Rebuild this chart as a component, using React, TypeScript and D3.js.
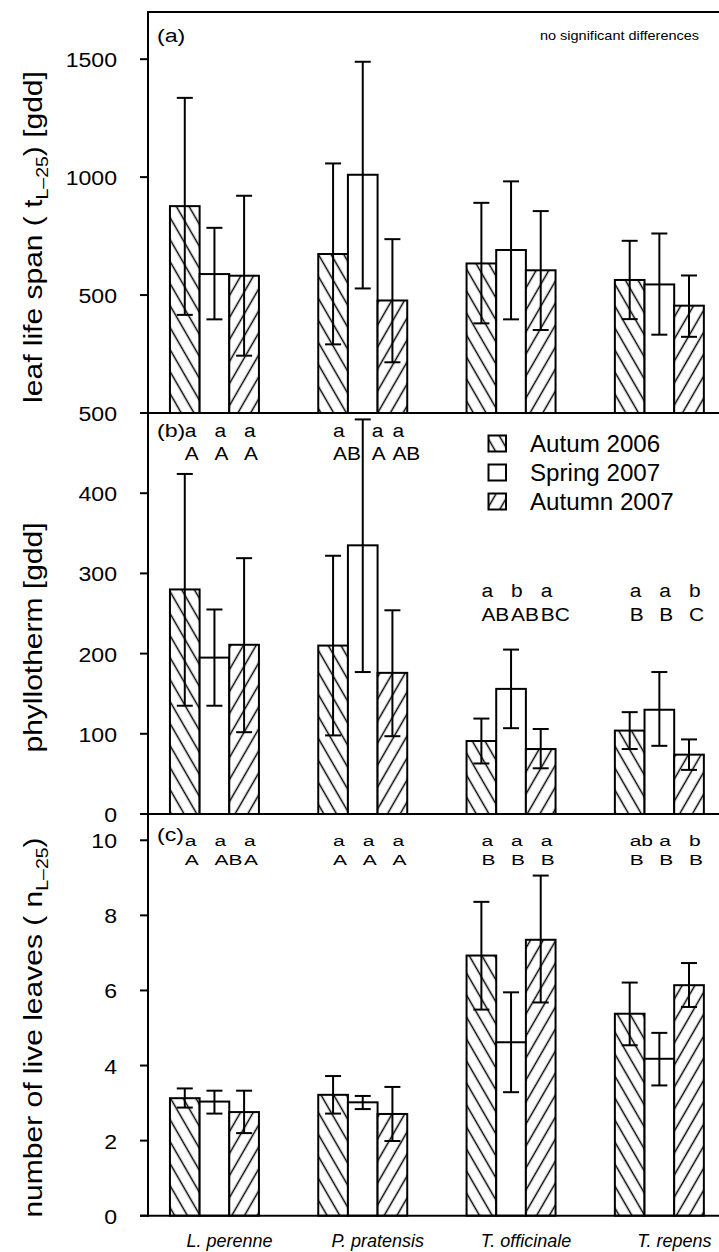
import React from "react";
import * as d3 from "d3";

const species = ["L. perenne", "P. pratensis", "T. officinale", "T. repens"];
const seasons = ["Autum 2006", "Spring 2007", "Autumn 2007"];

// Panel (a): leaf life span [gdd]
const lifeSpanMean = [[877, 589, 582], [674, 1010, 477], [634, 691, 605], [564, 545, 455]];
const lifeSpanHi = [[1336, 785, 921], [1058, 1489, 737], [891, 982, 856], [730, 761, 583]];
const lifeSpanLo = [[416, 397, 243], [291, 528, 215], [380, 397, 352], [398, 332, 323]];
const lifeSpanTicks = [500, 1000, 1500];

// Panel (b): phyllotherm [gdd]
const phylloMean = [[280, 195, 211], [210, 335, 176], [91, 156, 81], [104, 130, 74]];
const phylloHi = [[424, 255, 319], [322, 492, 254], [119, 205, 106], [127, 177, 93]];
const phylloLo = [[135, 135, 102], [98, 177, 97], [63, 107, 57], [81, 85, 55]];
const phylloTicks = [0, 100, 200, 300, 400, 500];
const phylloLower = [["a", "a", "a"], ["a", "a", "a"], ["a", "b", "a"], ["a", "a", "b"]];
const phylloUpper = [["A", "A", "A"], ["AB", "A", "AB"], ["AB", "AB", "BC"], ["B", "B", "C"]];
const phylloLetterY = [470, 470, 270, 270];

// Panel (c): number of live leaves
const leavesMean = [[3.13, 3.04, 2.76], [3.22, 3.02, 2.71], [6.93, 4.62, 7.35], [5.38, 4.18, 6.14]];
const leavesHi = [[3.39, 3.33, 3.33], [3.72, 3.19, 3.43], [8.36, 5.95, 9.06], [6.21, 4.87, 6.73]];
const leavesLo = [[2.88, 2.72, 2.2], [2.72, 2.84, 1.99], [5.49, 3.29, 5.68], [4.54, 3.47, 5.56]];
const leavesTicks = [0, 2, 4, 6, 8, 10];
const leavesLower = [["a", "a", "a"], ["a", "a", "a"], ["a", "a", "a"], ["ab", "a", "b"]];
const leavesUpper = [["A", "AB", "A"], ["A", "A", "A"], ["B", "B", "B"], ["B", "B", "B"]];
const leavesLetterY = [9.84, 9.84, 9.84, 9.84];

const W = 719;
const H = 1252;
const AX = 148;
const FONT = "'Liberation Sans', Arial, Helvetica, sans-serif";
const CAP = 16;

const xOuter = d3.scaleBand<string>().domain(species).range([AX, 725.8]).paddingInner(0.4).paddingOuter(0.148);
const xInner = d3.scaleBand<string>().domain(seasons).range([0, xOuter.bandwidth()]);

const fills = ["url(#hatchBack)", "#fff", "url(#hatchFwd)"];

function SText(props: any) {
  const { x, y, sx = 1, size, anchor = "start", rotate, italic, children } = props;
  const t = `translate(${x},${y})${rotate ? ` rotate(${rotate})` : ""} scale(${sx},1)`;
  return (
    <text transform={t} fontSize={size} textAnchor={anchor} fontFamily={FONT} fontStyle={italic ? "italic" : "normal"} fill="#000">
      {children}
    </text>
  );
}

type Panel = {
  top: number; bottom: number; domain: [number, number]; ticks: number[];
  mean: number[][]; hi: number[][]; lo: number[][];
  tag: string; tagY: number;
  lower?: string[][]; upper?: string[][]; letterY?: number[];
  letterSize?: number; letterSx?: number; rowGap?: number;
  label: React.ReactNode; labelCenter: number;
};

const panels: Panel[] = [
  {
    top: 12, bottom: 413, domain: [0, 1700], ticks: lifeSpanTicks,
    mean: lifeSpanMean, hi: lifeSpanHi, lo: lifeSpanLo, tag: "(a)", tagY: 41.5,
    label: (<>leaf life span ( t<tspan fontSize="0.65em" dy="6">L–25</tspan><tspan dy="-6">) [gdd]</tspan></>),
    labelCenter: 237,
  },
  {
    top: 413, bottom: 814, domain: [0, 500], ticks: phylloTicks,
    mean: phylloMean, hi: phylloHi, lo: phylloLo, tag: "(b)", tagY: 436.7,
    lower: phylloLower, upper: phylloUpper, letterY: phylloLetterY, letterSize: 19, letterSx: 1.1, rowGap: 23.3,
    label: "phyllotherm [gdd]", labelCenter: 637.5,
  },
  {
    top: 814, bottom: 1215.7, domain: [0, 10.7], ticks: leavesTicks,
    mean: leavesMean, hi: leavesHi, lo: leavesLo, tag: "(c)", tagY: 841,
    lower: leavesLower, upper: leavesUpper, letterY: leavesLetterY, letterSize: 15, letterSx: 1.4, rowGap: 18.3,
    label: (<>number of live leaves ( n<tspan fontSize="0.65em" dy="6">L–25</tspan><tspan dy="-6">)</tspan></>),
    labelCenter: 1027.5,
  },
];

function PanelView({ p }: { p: Panel }) {
  const y = d3.scaleLinear().domain(p.domain).range([p.bottom, p.top]);
  return (
    <g>
      {species.map((sp, gi) =>
        seasons.map((se, si) => {
          const bx = (xOuter(sp) as number) + (xInner(se) as number);
          const bw = xInner.bandwidth();
          const v = p.mean[gi][si];
          return (
            <g key={sp + se}>
              <rect x={bx} y={y(v)} width={bw} height={y(0) - y(v)} fill="#fff" />
              <rect x={bx} y={y(v)} width={bw} height={y(0) - y(v)} fill={fills[si]} stroke="#000" strokeWidth={2} />
            </g>
          );
        })
      )}
      {species.map((sp, gi) =>
        seasons.map((se, si) => {
          const cx = (xOuter(sp) as number) + (xInner(se) as number) + xInner.bandwidth() / 2;
          const hi = y(p.hi[gi][si]);
          const lo = y(p.lo[gi][si]);
          return (
            <g key={"e" + sp + se} stroke="#000" strokeWidth={2}>
              <line x1={cx} x2={cx} y1={hi} y2={lo} />
              <line x1={cx - CAP / 2} x2={cx + CAP / 2} y1={hi} y2={hi} />
              <line x1={cx - CAP / 2} x2={cx + CAP / 2} y1={lo} y2={lo} />
            </g>
          );
        })
      )}
      {p.lower && p.upper && p.letterY &&
        species.map((sp, gi) =>
          seasons.map((se, si) => {
            const cx = (xOuter(sp) as number) + (xInner(se) as number) + xInner.bandwidth() / 2;
            const ly = y(p.letterY![gi]);
            const shift = p.hi[gi][si] >= p.letterY![gi] ? CAP / 2 + 1 : 0;
            return (
              <g key={"l" + sp + se}>
                <SText x={cx + shift} y={ly} size={p.letterSize} sx={p.letterSx}>{p.lower![gi][si]}</SText>
                <SText x={cx + shift} y={ly + p.rowGap!} size={p.letterSize} sx={p.letterSx}>{p.upper![gi][si]}</SText>
              </g>
            );
          })
        )}
      {p.ticks.map((t) => (
        <g key={"t" + t}>
          <line x1={AX - 8} x2={AX} y1={y(t)} y2={y(t)} stroke="#000" strokeWidth={2} />
          <SText x={117} y={y(t) + 8} size={21} sx={1.1} anchor="end">{t}</SText>
        </g>
      ))}
      <line x1={AX - 8} x2={W} y1={p.bottom} y2={p.bottom} stroke="#000" strokeWidth={2} />
      <SText x={157} y={p.tagY} size={19} sx={1.22}>{p.tag}</SText>
      <SText x={42} y={p.labelCenter} size={25} sx={1.2} rotate={-90} anchor="middle">{p.label}</SText>
    </g>
  );
}

export default function App() {
  const legendY = d3.scaleBand<string>().domain(seasons).range([429, 516]);
  return (
    <svg width={W} height={H} style={{ position: "absolute", left: 0, top: 0, background: "#fff" }}>
      <defs>
        <pattern id="hatchBack" patternUnits="userSpaceOnUse" width={11} height={11} patternTransform="rotate(-30)">
          <rect width={11} height={11} fill="#fff" />
          <line x1={5.5} x2={5.5} y1={0} y2={11} stroke="#000" strokeWidth={1.5} />
        </pattern>
        <pattern id="hatchFwd" patternUnits="userSpaceOnUse" width={11} height={11} patternTransform="rotate(30)">
          <rect width={11} height={11} fill="#fff" />
          <line x1={5.5} x2={5.5} y1={0} y2={11} stroke="#000" strokeWidth={1.5} />
        </pattern>
      </defs>
      <rect width={W} height={H} fill="#fff" />
      {panels.map((p, i) => (
        <PanelView key={i} p={p} />
      ))}
      <line x1={AX} x2={AX} y1={12} y2={1216.7} stroke="#000" strokeWidth={2} />
      <line x1={AX - 1} x2={W} y1={12} y2={12} stroke="#000" strokeWidth={2} />
      <SText x={540} y={40} size={12.7} sx={1.14}>no significant differences</SText>
      {seasons.map((se, si) => {
        const cy = (legendY(se) as number) + legendY.bandwidth() / 2;
        return (
          <g key={"lg" + se}>
            <rect x={488.5} y={cy - 8} width={17.5} height={16} fill={fills[si]} stroke="#000" strokeWidth={2} />
            <SText x={530} y={cy + 8.4} size={23} sx={1.05}>{se}</SText>
          </g>
        );
      })}
      {species.map((sp) => (
        <SText key={"x" + sp} x={(xOuter(sp) as number) + xOuter.bandwidth() / 2 + 15} y={1246.5} size={18} anchor="middle" italic>
          {sp}
        </SText>
      ))}
    </svg>
  );
}
